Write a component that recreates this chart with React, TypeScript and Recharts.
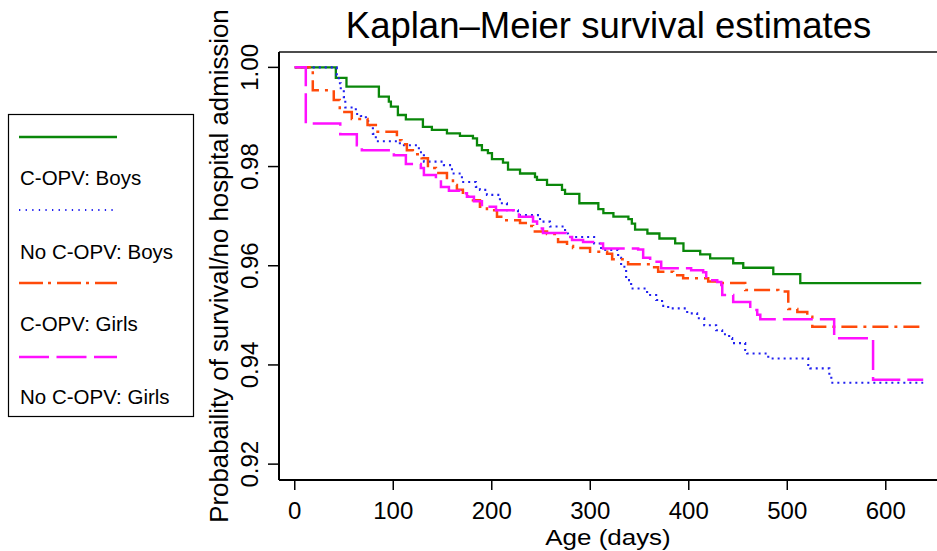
import React from 'react';
import { LineChart, Line, XAxis, YAxis, ReferenceLine } from 'recharts';

const TITLE = 'Kaplan–Meier survival estimates';
const X_TITLE = 'Age (days)';
const Y_TITLE = 'Probabaility of survival/no hospital admission';

const seriesNames = ['C-OPV: Boys', 'No C-OPV: Boys', 'C-OPV: Girls', 'No C-OPV: Girls'];

const xTicks = [0, 100, 200, 300, 400, 500, 600];
const xTickLabels = ['0', '100', '200', '300', '400', '500', '600'];
const yTicks = [0.92, 0.94, 0.96, 0.98, 1.0];
const yTickLabels = ['0.92', '0.94', '0.96', '0.98', '1.00'];

const X_DOMAIN = [-16, 652];
const Y_DOMAIN = [0.9168, 1.0031];

// C-OPV: Boys (green, solid)
const copvBoysDays = [0, 41.7, 52.5, 85.4, 95.5, 97.6, 104.7, 112.8, 130.1, 139.2, 154.5, 167.7, 180.9, 185, 190, 196.1, 200.2, 211.4, 216.5, 228.7, 243.9, 245.9, 256.1, 271.3, 274.4, 288.9, 308.2, 313.3, 323.5, 338.7, 342.2, 345.5, 358, 370.2, 386.2, 394.6, 411.6, 421.7, 445.1, 455.3, 485.8, 513.2, 636];
const copvBoysSurv = [1, 0.9979, 0.9961, 0.9941, 0.9931, 0.9921, 0.9904, 0.9895, 0.9880, 0.9874, 0.9867, 0.9862, 0.9857, 0.9843, 0.9833, 0.9827, 0.9815, 0.9808, 0.9794, 0.9786, 0.9779, 0.9773, 0.9763, 0.9753, 0.9745, 0.9726, 0.9714, 0.9706, 0.9699, 0.9694, 0.9685, 0.9673, 0.9665, 0.9655, 0.9645, 0.9630, 0.9623, 0.9615, 0.9605, 0.9596, 0.9583, 0.9565, 0.9565];

// No C-OPV: Boys (blue, dotted)
const noCopvBoysDays = [0, 42.7, 44.7, 46.7, 49.8, 51.3, 62, 67.1, 72.2, 76.2, 79.3, 82.3, 106.7, 126, 131.1, 151.4, 159.6, 169.7, 183.9, 188, 195.1, 208.3, 215.4, 226.6, 249, 259.1, 274.4, 277.4, 303.9, 311, 328.3, 331.3, 336.4, 341.5, 357.7, 366.9, 372.9, 379.1, 398.4, 408.5, 415.7, 427.8, 433.9, 441, 444.1, 457.3, 459.3, 480.7, 521.3, 523.4, 542.7, 544.7, 638];
const noCopvBoysSurv = [1, 0.9984, 0.9968, 0.9954, 0.9940, 0.9919, 0.9906, 0.9902, 0.9892, 0.9880, 0.9866, 0.9851, 0.9843, 0.9829, 0.9810, 0.9803, 0.9786, 0.9769, 0.9759, 0.9753, 0.9743, 0.9726, 0.9712, 0.9702, 0.9689, 0.9679, 0.9665, 0.9658, 0.9645, 0.9632, 0.9616, 0.9598, 0.9571, 0.9554, 0.9541, 0.9531, 0.9519, 0.9514, 0.9504, 0.9494, 0.9480, 0.9470, 0.9462, 0.9454, 0.9444, 0.9430, 0.9423, 0.9413, 0.9400, 0.9393, 0.9380, 0.9364, 0.9364];

// C-OPV: Girls (orange, dash-dot)
const copvGirlsDays = [0, 18.3, 39.6, 45.7, 57.9, 73.9, 82.3, 103.7, 108.4, 113.8, 119.9, 128.8, 135.2, 143.3, 154.5, 160.6, 164.6, 170.7, 175.8, 180.9, 188, 195.1, 205.3, 213.4, 228.7, 238.8, 241.9, 256.1, 267.3, 276.4, 282.5, 299.8, 317.1, 322.2, 338.4, 362.8, 368.9, 384.1, 394.3, 419.7, 429.9, 457.3, 490.9, 501, 510.2, 520.3, 525.4, 640];
const copvGirlsSurv = [1, 0.9954, 0.9934, 0.9910, 0.9896, 0.9884, 0.9870, 0.9853, 0.9845, 0.9833, 0.9825, 0.9817, 0.9797, 0.9787, 0.9777, 0.9763, 0.9753, 0.9747, 0.9739, 0.9732, 0.9719, 0.9712, 0.9699, 0.9692, 0.9686, 0.9680, 0.9669, 0.9664, 0.9648, 0.9640, 0.9636, 0.9628, 0.9624, 0.9613, 0.9603, 0.9597, 0.9588, 0.9581, 0.9575, 0.9568, 0.9565, 0.9551, 0.9548, 0.9513, 0.9507, 0.9497, 0.9477, 0.9477];

// No C-OPV: Girls (magenta, dashed)
const noCopvGirlsDays = [0, 11.2, 46.2, 63, 68.1, 100.6, 112.8, 128, 131.1, 143.3, 148.4, 156.5, 167.7, 174.8, 181.9, 190, 204.3, 227.6, 241.9, 246, 252, 275.4, 281.5, 292.7, 302.8, 313, 348.6, 353.7, 360.8, 372, 402.4, 414.6, 417.7, 428.9, 433, 434, 445.1, 462.4, 469.5, 472.6, 547.6, 587.1, 638];
const noCopvGirlsSurv = [1, 0.9887, 0.9865, 0.9843, 0.9833, 0.9823, 0.9805, 0.9797, 0.9783, 0.9773, 0.9759, 0.9751, 0.9746, 0.9739, 0.9730, 0.9719, 0.9712, 0.9699, 0.9689, 0.9675, 0.9666, 0.9658, 0.9652, 0.9648, 0.9645, 0.9635, 0.9633, 0.9616, 0.9608, 0.9595, 0.9591, 0.9587, 0.9571, 0.9567, 0.9561, 0.9541, 0.9527, 0.9511, 0.9501, 0.9492, 0.9454, 0.9370, 0.9370];

const FONT = '"Liberation Sans", Arial, Helvetica, sans-serif';

const build = (days: number[], surv: number[]) => days.map((t, i) => ({ t, s: surv[i] }));

const series = [
  { name: seriesNames[0], data: build(copvBoysDays, copvBoysSurv), color: '#0a870a', width: 2.3, dash: undefined as string | undefined, legendDash: undefined as string | undefined, legendWidth: 2.5 },
  { name: seriesNames[1], data: build(noCopvBoysDays, noCopvBoysSurv), color: '#2020f0', width: 2.1, dash: '2 4', legendDash: '1.3 5.3', legendWidth: 1.8 },
  { name: seriesNames[2], data: build(copvGirlsDays, copvGirlsSurv), color: '#ff4a0a', width: 2.5, dash: '16 6 3 6', legendDash: '24 5 3 6', legendWidth: 2.4 },
  { name: seriesNames[3], data: build(noCopvGirlsDays, noCopvGirlsSurv), color: '#ff10ff', width: 2.5, dash: '30 7', legendDash: '30 7.5', legendWidth: 2.4 },
];

const XTick = (props: any) => {
  const { x, y, payload } = props;
  const idx = xTicks.indexOf(payload.value);
  return (
    <text x={x} y={y + 27} textAnchor="middle" fontFamily={FONT} fontSize={24} fill="#000">
      {xTickLabels[idx]}
    </text>
  );
};

const YTick = (props: any) => {
  const { x, y, payload } = props;
  const idx = yTicks.findIndex((v) => Math.abs(v - payload.value) < 1e-9);
  return (
    <text transform={`translate(${x - 8},${y}) rotate(-90)`} textAnchor="middle" fontFamily={FONT} fontSize={24} fill="#000">
      {yTickLabels[idx]}
    </text>
  );
};

const XTitle = (props: any) => {
  const vb = props.viewBox || {};
  return (
    <text transform={`translate(${vb.x + vb.width / 2},545) scale(1.18,1)`} textAnchor="middle" fontFamily={FONT} fontSize={22} fill="#000">
      {X_TITLE}
    </text>
  );
};

const YTitle = (props: any) => {
  const vb = props.viewBox || {};
  return (
    <text transform={`translate(228,${vb.y + vb.height / 2}) rotate(-90)`} textAnchor="middle" fontFamily={FONT} fontSize={25.8} fill="#000">
      {Y_TITLE}
    </text>
  );
};

const LegendBox = () => {
  const lineYs = [137, 210, 283, 357];
  const textYs = [185, 259, 331, 404];
  return (
    <svg width={937} height={551} style={{ position: 'absolute', left: 0, top: 0, pointerEvents: 'none' }}>
      <text x={608.5} y={38} textAnchor="middle" fontFamily={FONT} fontSize={36.5} fill="#000">
        {TITLE}
      </text>
      <rect x={8.5} y={114.5} width={185} height={302} fill="#fff" stroke="#000" strokeWidth={1.2} />
      {series.map((s, i) => (
        <g key={s.name}>
          <line x1={19} x2={117} y1={lineYs[i]} y2={lineYs[i]} stroke={s.color} strokeWidth={s.legendWidth} strokeDasharray={s.legendDash} />
          <text x={20} y={textYs[i]} fontFamily={FONT} fontSize={20.5} fill="#000">
            {s.name}
          </text>
        </g>
      ))}
    </svg>
  );
};

export default function App() {
  return (
    <div style={{ position: 'absolute', left: 0, top: 0, width: 937, height: 551, background: '#fff', overflow: 'hidden' }}>
      <LineChart width={937} height={551} margin={{ top: 52, right: 0, bottom: 0, left: 0 }}>
        <XAxis
          type="number"
          dataKey="t"
          domain={X_DOMAIN}
          ticks={xTicks}
          interval={0}
          allowDataOverflow
          height={71}
          axisLine={{ stroke: '#000', strokeWidth: 2 }}
          tickLine={{ stroke: '#000', strokeWidth: 1.5 }}
          tickSize={10}
          tick={<XTick />}
          label={<XTitle />}
        />
        <YAxis
          type="number"
          domain={Y_DOMAIN}
          ticks={yTicks}
          interval={0}
          allowDataOverflow
          width={279}
          axisLine={{ stroke: '#000', strokeWidth: 2 }}
          tickLine={{ stroke: '#000', strokeWidth: 1.5 }}
          tickSize={11}
          tick={<YTick />}
          label={<YTitle />}
        />
        <ReferenceLine y={Y_DOMAIN[1]} stroke="#111" strokeWidth={1.6} ifOverflow="visible" />
        {series.map((s) => (
          <Line
            key={s.name}
            name={s.name}
            data={s.data}
            dataKey="s"
            type="stepAfter"
            stroke={s.color}
            strokeWidth={s.width}
            strokeDasharray={s.dash}
            dot={false}
            activeDot={false}
            isAnimationActive={false}
          />
        ))}
      </LineChart>
      <LegendBox />
    </div>
  );
}
